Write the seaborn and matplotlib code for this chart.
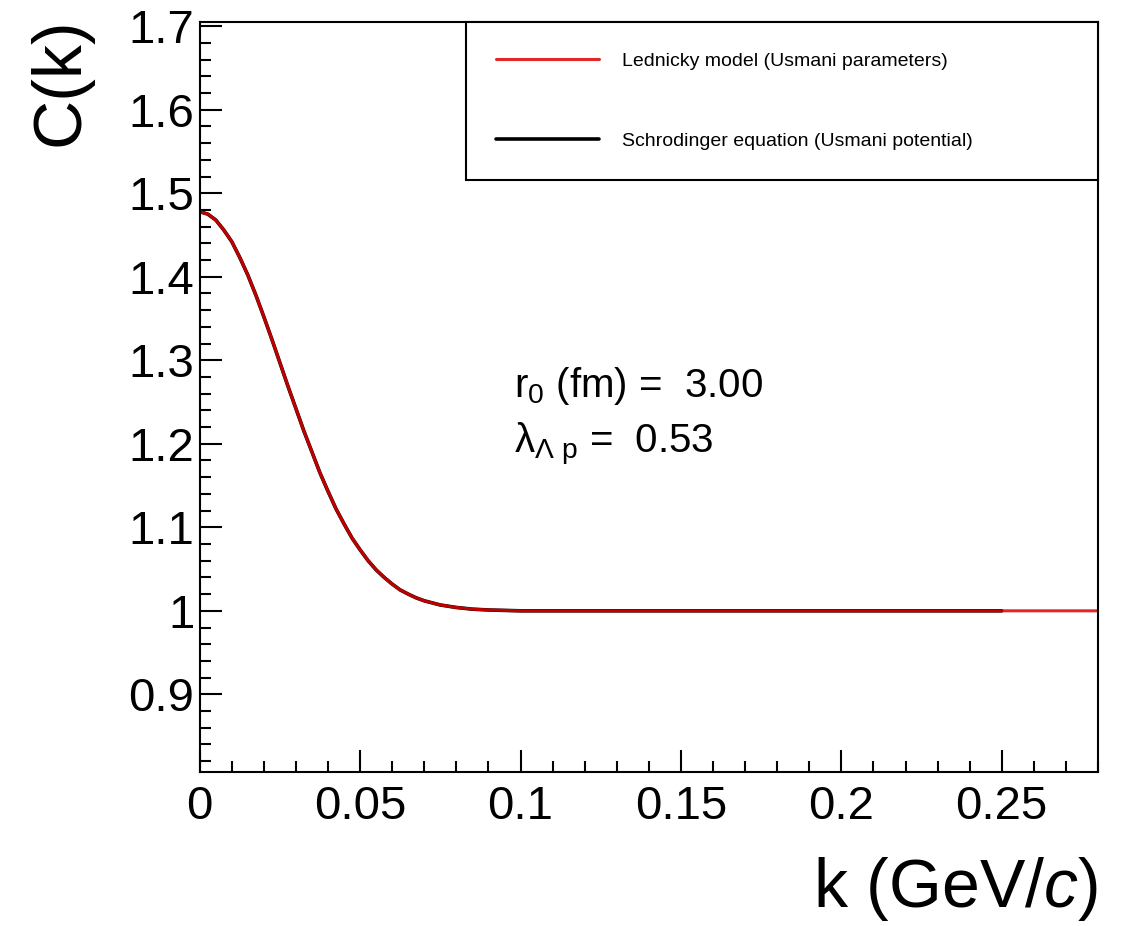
import numpy as np
import pandas as pd
import seaborn as sns
import matplotlib.pyplot as plt
from matplotlib.ticker import MultipleLocator

# values
k_vals = [0.0, 0.0025, 0.005, 0.0075, 0.01, 0.0125, 0.015, 0.0175, 0.02, 0.0225,
          0.025, 0.0275, 0.03, 0.0325, 0.035, 0.0375, 0.04, 0.0425, 0.045, 0.0475,
          0.05, 0.0525, 0.055, 0.0575, 0.06, 0.0625, 0.065, 0.0675, 0.07, 0.075,
          0.08, 0.085, 0.09, 0.1, 0.12, 0.15, 0.2, 0.25]
c_schrodinger = [1.478, 1.475, 1.468, 1.456, 1.442, 1.423, 1.402, 1.378, 1.352, 1.325,
                 1.297, 1.269, 1.242, 1.215, 1.190, 1.165, 1.143, 1.122, 1.104, 1.087,
                 1.073, 1.060, 1.049, 1.040, 1.032, 1.025, 1.020, 1.0155, 1.012, 1.007,
                 1.004, 1.002, 1.001, 1.000, 1.000, 1.000, 1.000, 1.000]
k_lednicky = k_vals + [0.28]
c_lednicky = c_schrodinger + [1.000]

label_led = "Lednicky model (Usmani parameters)"
label_sch = "Schrodinger equation (Usmani potential)"

y_ticks = [0.9, 1.0, 1.1, 1.2, 1.3, 1.4, 1.5, 1.6, 1.7]
y_labels = ["0.9", "1", "1.1", "1.2", "1.3", "1.4", "1.5", "1.6", "1.7"]
x_ticks = [0.0, 0.05, 0.1, 0.15, 0.2, 0.25]
x_labels = ["0", "0.05", "0.1", "0.15", "0.2", "0.25"]

sns.set_style("ticks")
plt.rcParams['font.family'] = ['Liberation Sans', 'DejaVu Sans']
plt.rcParams['text.color'] = 'black'
plt.rcParams['axes.labelcolor'] = 'black'
plt.rcParams['mathtext.fontset'] = 'custom'
plt.rcParams['mathtext.rm'] = 'Liberation Sans'
plt.rcParams['mathtext.it'] = 'Liberation Sans:italic'

df_sch = pd.DataFrame({"k": k_vals, "C": c_schrodinger})
df_led = pd.DataFrame({"k": k_lednicky, "C": c_lednicky})

fig = plt.figure(figsize=(11.22, 9.26), dpi=100)
ax = fig.add_axes([0.178, 0.1663, 0.8006, 0.8099])

sns.lineplot(data=df_sch, x="k", y="C", ax=ax, color="black", lw=2.6, label=label_sch)
sns.lineplot(data=df_led, x="k", y="C", ax=ax, color="#e00000", lw=2.2, alpha=0.85,
             label=label_led)

ax.set_xlim(0, 0.28)
ax.set_ylim(0.807, 1.705)
ax.set_xticks(x_ticks)
ax.set_xticklabels(x_labels)
ax.set_yticks(y_ticks)
ax.set_yticklabels(y_labels)
ax.xaxis.set_minor_locator(MultipleLocator(0.01))
ax.yaxis.set_minor_locator(MultipleLocator(0.02))
ax.tick_params(which='both', direction='in', width=1.5, labelsize=34, colors='black')
ax.tick_params(which='major', length=16)
ax.tick_params(which='minor', length=8)
ax.tick_params(axis='x', pad=9)
ax.tick_params(axis='y', pad=4)
for s in ax.spines.values():
    s.set_linewidth(1.5)
    s.set_color('black')

ax.set_ylabel("C(k)", fontsize=49, loc='top')
ax.yaxis.set_label_coords(-0.119, 1.006)
ax.set_xlabel(r"k (GeV/$c$)", fontsize=49, loc='right')
ax.xaxis.set_label_coords(1.0, -0.111)

ax.text(0.35, 0.50, r"r$_0$ (fm) =  3.00", transform=ax.transAxes, fontsize=29)
ax.text(0.35, 0.425, r"λ$_{\Lambda\ \mathrm{p}}$ =  0.53", transform=ax.transAxes,
        fontsize=29)

handles, labels = ax.get_legend_handles_labels()
leg = ax.legend(handles[::-1], labels[::-1], loc='upper left',
                bbox_to_anchor=(0.296, 0.787, 0.704, 0.213), mode='expand',
                borderaxespad=0, fontsize=14, handlelength=5.3, handletextpad=1.2,
                borderpad=1.55, labelspacing=3.2, fancybox=False, framealpha=1,
                edgecolor='black')
leg.get_frame().set_linewidth(1.5)

plt.savefig("out.png", dpi=100)
